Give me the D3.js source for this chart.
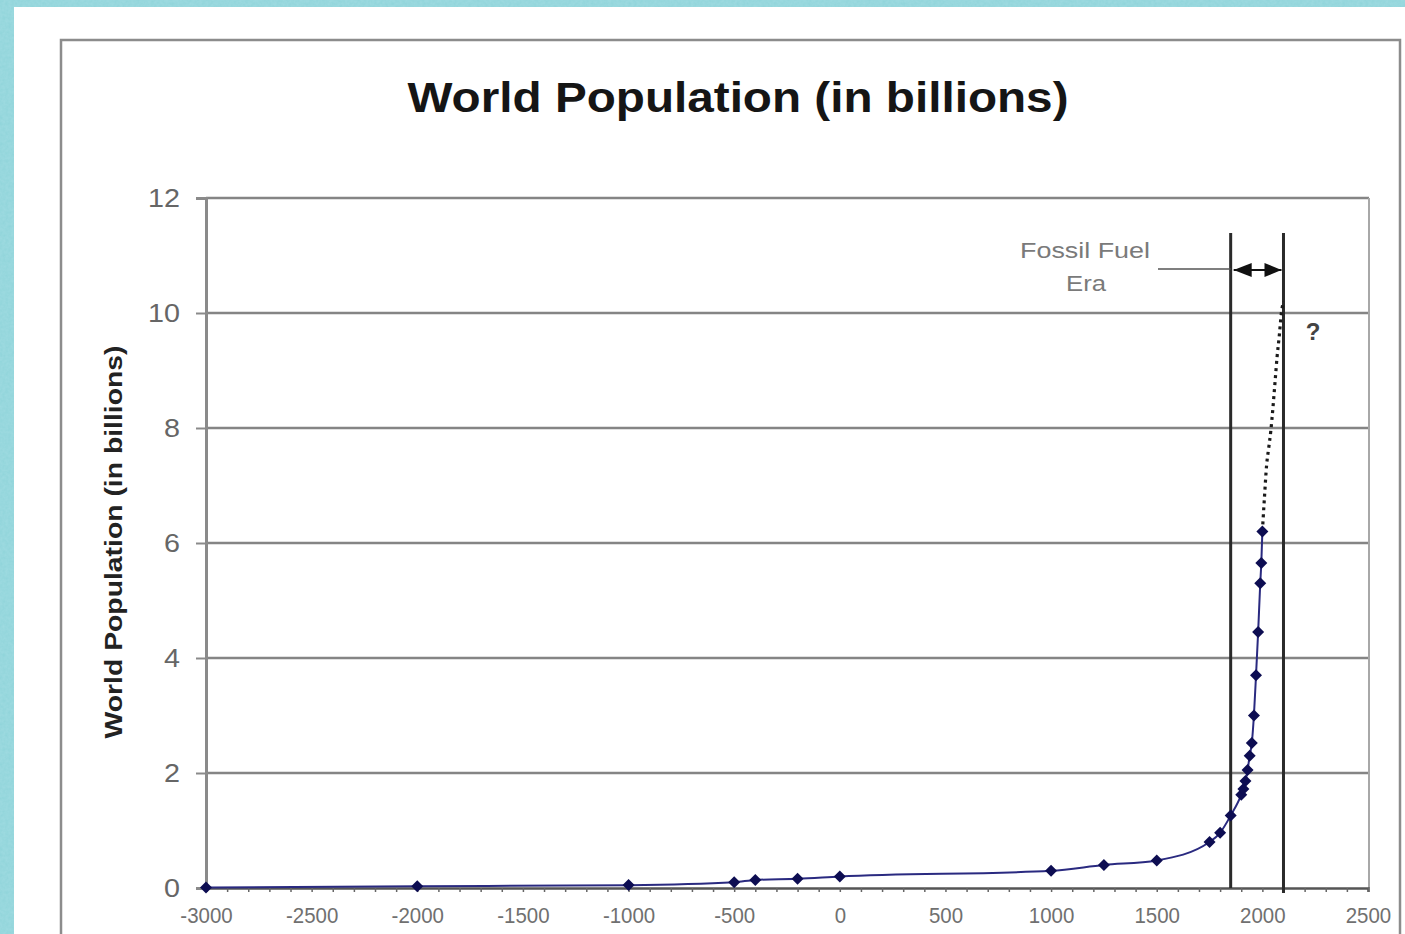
<!DOCTYPE html>
<html>
<head>
<meta charset="utf-8">
<script src="https://cdn.jsdelivr.net/npm/d3@7"></script>
<style>
  html, body { margin: 0; padding: 0; background: #fff; }
  svg { display: block; font-family: "Liberation Sans", Arial, sans-serif; }
</style>
</head>
<body>
<svg id="chart" width="1405" height="934"></svg>
<script>
// Historical world population estimates (billions)
const years = [-3000, -2000, -1000, -500, -400, -200, 0, 1000, 1250, 1500, 1750, 1800, 1850,
               1900, 1910, 1920, 1930, 1940, 1950, 1960, 1970, 1980, 1990, 1995, 2000];
const population = [0.01, 0.03, 0.05, 0.1, 0.14, 0.16, 0.2, 0.3, 0.4, 0.48, 0.8, 0.96, 1.26,
                     1.62, 1.72, 1.86, 2.05, 2.3, 2.52, 3.0, 3.7, 4.45, 5.3, 5.65, 6.2];

// Projected growth beyond 2000 (dotted)
const projYears = [2000, 2010, 2020, 2030, 2040, 2050, 2060, 2070, 2080, 2090, 2100];
const projPopulation = [6.2, 6.8, 7.35, 7.65, 7.95, 8.35, 8.8, 9.25, 9.6, 10.0, 10.2];

// Axis ticks
const yTicks = [0, 2, 4, 6, 8, 10, 12];
const xTicks = [-3000, -2500, -2000, -1500, -1000, -500, 0, 500, 1000, 1500, 2000, 2500];

// Start and end of the fossil fuel era
const eraBounds = [1850, 2100];

const W = 1405, H = 934;
const svg = d3.select("#chart");

// textured teal backdrop
const defs = svg.append("defs");
const f = defs.append("filter").attr("id", "grain").attr("x", 0).attr("y", 0).attr("width", 1).attr("height", 1);
f.append("feTurbulence").attr("type", "fractalNoise").attr("baseFrequency", 0.35).attr("numOctaves", 2).attr("result", "n");
f.append("feColorMatrix").attr("in", "n").attr("type", "matrix")
  .attr("values", "0 0 0 0 0.45  0 0 0 0 0.78  0 0 0 0 0.82  0 0 0 0.9 0").attr("result", "c");
f.append("feComposite").attr("in", "c").attr("in2", "SourceGraphic").attr("operator", "over");
svg.append("rect").attr("width", W).attr("height", H).attr("fill", "#8fd4da");
svg.append("rect").attr("width", W).attr("height", H).attr("fill", "#8fd4da").attr("filter", "url(#grain)").attr("opacity", 0.5);

// white page
svg.append("rect").attr("x", 14).attr("y", 7).attr("width", W - 14).attr("height", H - 7).attr("fill", "#fff");

// chart frame
svg.append("rect").attr("x", 61).attr("y", 40).attr("width", 1339).attr("height", H)
  .attr("fill", "none").attr("stroke", "#8c8c8c").attr("stroke-width", 2.5);

const x = d3.scaleLinear().domain([-3000, 2500]).range([206, 1368]);
const y = d3.scaleLinear().domain([0, 12]).range([888, 198]);

// title
svg.append("text")
  .attr("x", 738).attr("y", 112)
  .attr("text-anchor", "middle")
  .attr("font-size", 42).attr("font-weight", "bold").attr("fill", "#151515")
  .attr("textLength", 661).attr("lengthAdjust", "spacingAndGlyphs")
  .text("World Population (in billions)");

// horizontal gridlines
svg.append("g").selectAll("line")
  .data(yTicks.filter(d => d > 0))
  .join("line")
  .attr("x1", x(-3000)).attr("x2", x(2500) + 1)
  .attr("y1", d => y(d)).attr("y2", d => y(d))
  .attr("stroke", "#858585").attr("stroke-width", 2.5);

// right edge of plot area
svg.append("line")
  .attr("x1", x(2500) + 1).attr("x2", x(2500) + 1)
  .attr("y1", y(12)).attr("y2", y(0))
  .attr("stroke", "#a8a8a8").attr("stroke-width", 2);

// y axis
const yAxis = svg.append("g")
  .attr("transform", `translate(${x(-3000)},0)`)
  .call(d3.axisLeft(y).tickValues(yTicks).tickSize(10).tickPadding(16).tickFormat(d => String(d)));
yAxis.select(".domain").attr("stroke", "#8a8a8a").attr("stroke-width", 3);
yAxis.selectAll(".tick line").attr("stroke", "#8a8a8a").attr("stroke-width", 2);
yAxis.selectAll(".tick text")
  .attr("font-size", 25).attr("fill", "#666")
  .attr("font-family", "'Liberation Sans', Arial, sans-serif")
  .attr("x", -26 / 1.15)
  .attr("transform", "scale(1.15,1)");

// x axis: minor ticks every century, labels every 500 years
const xAxis = svg.append("g")
  .attr("transform", `translate(0,${y(0)})`)
  .call(d3.axisBottom(x)
    .tickValues(d3.range(-3000, 2501, 100))
    .tickSize(4).tickPadding(15)
    .tickFormat(d => xTicks.includes(d) ? String(d) : ""));
xAxis.select(".domain").attr("stroke", "#555").attr("stroke-width", 2.5);
xAxis.selectAll(".tick line").attr("stroke", "#666").attr("stroke-width", 1.5);
xAxis.selectAll(".tick text")
  .attr("font-size", 22).attr("fill", "#707070")
  .attr("font-family", "'Liberation Sans', Arial, sans-serif")
  .attr("transform", "scale(0.93,1)");

// y axis title
svg.append("text")
  .attr("transform", `translate(122,542) rotate(-90)`)
  .attr("text-anchor", "middle")
  .attr("font-size", 23).attr("font-weight", "bold").attr("fill", "#222")
  .attr("textLength", 393).attr("lengthAdjust", "spacingAndGlyphs")
  .text("World Population (in billions)");

// fossil fuel era boundaries
svg.append("g").selectAll("line")
  .data(eraBounds)
  .join("line")
  .attr("x1", d => x(d)).attr("x2", d => x(d))
  .attr("y1", 233).attr("y2", (d, i) => i === 0 ? y(0) : y(0) + 5)
  .attr("stroke", "#2a2a2a").attr("stroke-width", 3);

// era label and leader
svg.append("text")
  .attr("x", 1085).attr("y", 258).attr("text-anchor", "middle")
  .attr("font-size", 22).attr("fill", "#7a7a7a")
  .attr("textLength", 130).attr("lengthAdjust", "spacingAndGlyphs")
  .text("Fossil Fuel");
svg.append("text")
  .attr("x", 1086).attr("y", 291).attr("text-anchor", "middle")
  .attr("font-size", 22).attr("fill", "#7a7a7a")
  .attr("textLength", 40).attr("lengthAdjust", "spacingAndGlyphs")
  .text("Era");
svg.append("line")
  .attr("x1", 1158).attr("x2", x(eraBounds[0])).attr("y1", 269).attr("y2", 269)
  .attr("stroke", "#555").attr("stroke-width", 1.5);

// double-headed span arrow
const xa = x(eraBounds[0]) + 3, xb = x(eraBounds[1]) - 2, ya = 270;
svg.append("line").attr("x1", xa).attr("x2", xb).attr("y1", ya).attr("y2", ya)
  .attr("stroke", "#111").attr("stroke-width", 2);
svg.append("path")
  .attr("d", `M${xa},${ya} L${xa + 18},${ya - 7} L${xa + 18},${ya + 7} Z`).attr("fill", "#111");
svg.append("path")
  .attr("d", `M${xb},${ya} L${xb - 17},${ya - 7} L${xb - 17},${ya + 7} Z`).attr("fill", "#111");

// question mark beside the projection
svg.append("text")
  .attr("x", 1313).attr("y", 340).attr("text-anchor", "middle")
  .attr("font-size", 24).attr("font-weight", "bold").attr("fill", "#444")
  .text("?");

// projected growth (dotted)
svg.append("path")
  .datum(projYears.map((yr, i) => [yr, projPopulation[i]]))
  .attr("d", d3.line().x(d => x(d[0])).y(d => y(d[1])).curve(d3.curveMonotoneX))
  .attr("fill", "none").attr("stroke", "#1a1a1a").attr("stroke-width", 3.2)
  .attr("stroke-dasharray", "3,4");

// historical series
const pts = years.map((yr, i) => [yr, population[i]]);
svg.append("path")
  .datum(pts)
  .attr("d", d3.line().x(d => x(d[0])).y(d => y(d[1])).curve(d3.curveMonotoneX))
  .attr("fill", "none").attr("stroke", "#2a2a80").attr("stroke-width", 2);

svg.append("g").selectAll("path")
  .data(pts)
  .join("path")
  .attr("d", d3.symbol(d3.symbolSquare, 72))
  .attr("transform", d => `translate(${x(d[0])},${y(d[1])}) rotate(45)`)
  .attr("fill", "#0d0d52");
</script>
</body>
</html>
